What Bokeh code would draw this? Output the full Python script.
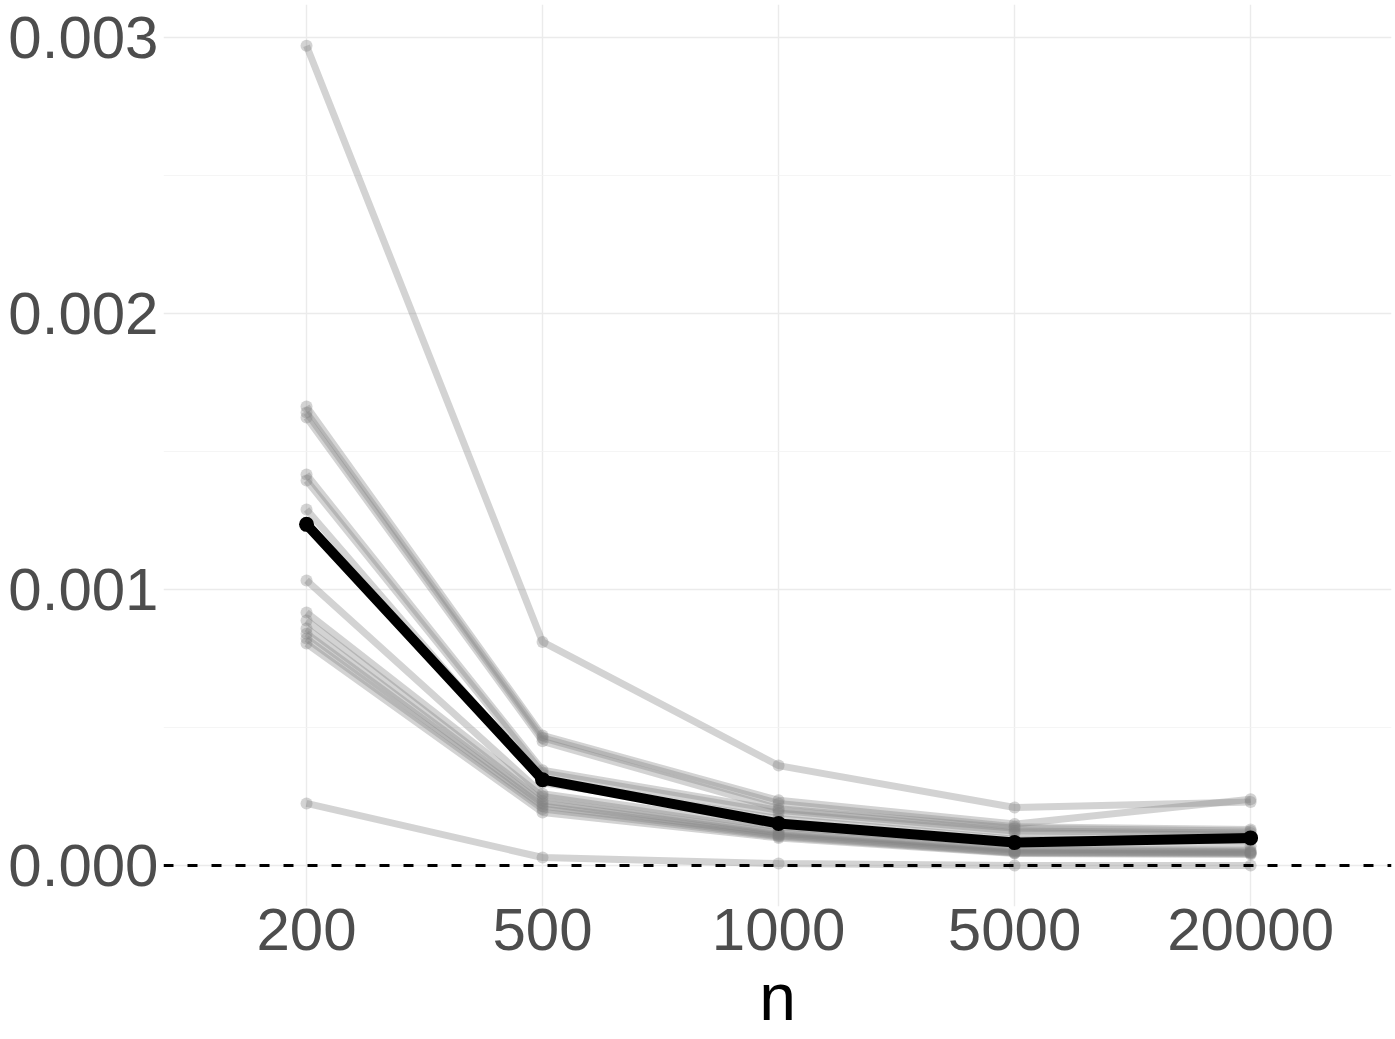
from bokeh.plotting import figure
from bokeh.models import Range1d, FixedTicker, Span
from bokeh.embed import file_html
from bokeh.resources import INLINE

# ---- data ----
n_labels = ["200", "500", "1000", "5000", "20000"]
x_pos = [1, 2, 3, 4, 5]
x_title = "n"

rep_a = [2.97e-3, 0.81e-3, 0.362e-3, 0.210e-3, 0.230e-3]
rep_b1 = [1.663e-3, 0.471e-3, 0.236e-3, 0.150e-3, 0.240e-3]
rep_b2 = [1.641e-3, 0.462e-3, 0.225e-3, 0.140e-3, 0.130e-3]
rep_b3 = [1.623e-3, 0.450e-3, 0.206e-3, 0.135e-3, 0.125e-3]
rep_c1 = [1.417e-3, 0.345e-3, 0.200e-3, 0.125e-3, 0.118e-3]
rep_c2 = [1.395e-3, 0.335e-3, 0.190e-3, 0.118e-3, 0.110e-3]
rep_d = [1.290e-3, 0.300e-3, 0.170e-3, 0.095e-3, 0.090e-3]
rep_e = [1.033e-3, 0.260e-3, 0.140e-3, 0.075e-3, 0.070e-3]
rep_f1 = [0.917e-3, 0.250e-3, 0.125e-3, 0.060e-3, 0.055e-3]
rep_f2 = [0.888e-3, 0.235e-3, 0.118e-3, 0.055e-3, 0.050e-3]
rep_f3 = [0.859e-3, 0.225e-3, 0.112e-3, 0.050e-3, 0.047e-3]
rep_f4 = [0.840e-3, 0.215e-3, 0.108e-3, 0.047e-3, 0.045e-3]
rep_f5 = [0.822e-3, 0.205e-3, 0.104e-3, 0.045e-3, 0.043e-3]
rep_f6 = [0.804e-3, 0.192e-3, 0.100e-3, 0.043e-3, 0.040e-3]
rep_g = [0.225e-3, 0.029e-3, 0.007e-3, 0.000e-3, 0.000e-3]

replicates = [rep_a, rep_b1, rep_b2, rep_b3, rep_c1, rep_c2, rep_d, rep_e,
              rep_f1, rep_f2, rep_f3, rep_f4, rep_f5, rep_f6, rep_g]

mean_line = [1.236e-3, 0.311e-3, 0.152e-3, 0.083e-3, 0.100e-3]

y_ticks = [0.0, 0.001, 0.002, 0.003]
y_minor = [0.0005, 0.0015, 0.0025]
y_tick_labels = ["0.000", "0.001", "0.002", "0.003"]

# ---- figure ----
# frame: x 163..1391, y 4..906 (page pixels)
p = figure(width=1395, height=1039, output_backend="svg", toolbar_location=None,
           x_range=Range1d(0.394, 5.597), y_range=Range1d(-0.0001486, 0.0031196),
           min_border_left=163, min_border_right=4, min_border_top=4,
           min_border_bottom=133)
p.outline_line_color = None
p.background_fill_color = "white"
p.border_fill_color = "white"

grey = "#808080"
for rep in replicates:
    p.line(x_pos, rep, line_color=grey, line_alpha=0.35, line_width=7)
    p.scatter(x_pos, rep, size=12, fill_color=grey, fill_alpha=0.35,
              line_color=None)

p.line(x_pos, mean_line, line_color="black", line_width=10)
p.scatter(x_pos, mean_line, size=15, fill_color="black", line_color=None)

p.add_layout(Span(location=0, dimension="width", line_color="black",
                  line_width=2.8, line_dash="10 14"))

# axes
p.xaxis.ticker = FixedTicker(ticks=x_pos)
p.xaxis.major_label_overrides = {x: lab for x, lab in zip(x_pos, n_labels)}
p.yaxis.ticker = FixedTicker(ticks=y_ticks, minor_ticks=y_minor)
p.yaxis.major_label_overrides = {v: lab for v, lab in zip(y_ticks, y_tick_labels)}

for ax in (p.xaxis, p.yaxis):
    ax.axis_line_color = None
    ax.major_tick_line_color = None
    ax.minor_tick_line_color = None
    ax.major_tick_out = 0
    ax.major_tick_in = 0
    ax.minor_tick_out = 0
    ax.minor_tick_in = 0
    ax.major_label_text_font = "Liberation Sans"
    ax.major_label_text_font_size = "60px"
    ax.major_label_text_color = "#4d4d4d"

p.xaxis.major_label_standoff = 2
p.yaxis.major_label_standoff = 5

p.xaxis.axis_label = x_title
p.xaxis.axis_label_text_font = "Liberation Sans"
p.xaxis.axis_label_text_font_size = "66px"
p.xaxis.axis_label_text_font_style = "normal"
p.xaxis.axis_label_text_color = "black"
p.xaxis.axis_label_standoff = 7

p.xgrid.grid_line_color = "#ebebeb"
p.xgrid.grid_line_width = 1.4
p.ygrid.grid_line_color = "#ebebeb"
p.ygrid.grid_line_width = 1.4
p.ygrid.minor_grid_line_color = "#f2f2f2"
p.ygrid.minor_grid_line_width = 0.8

open("out.html", "w").write(file_html(p, INLINE))
